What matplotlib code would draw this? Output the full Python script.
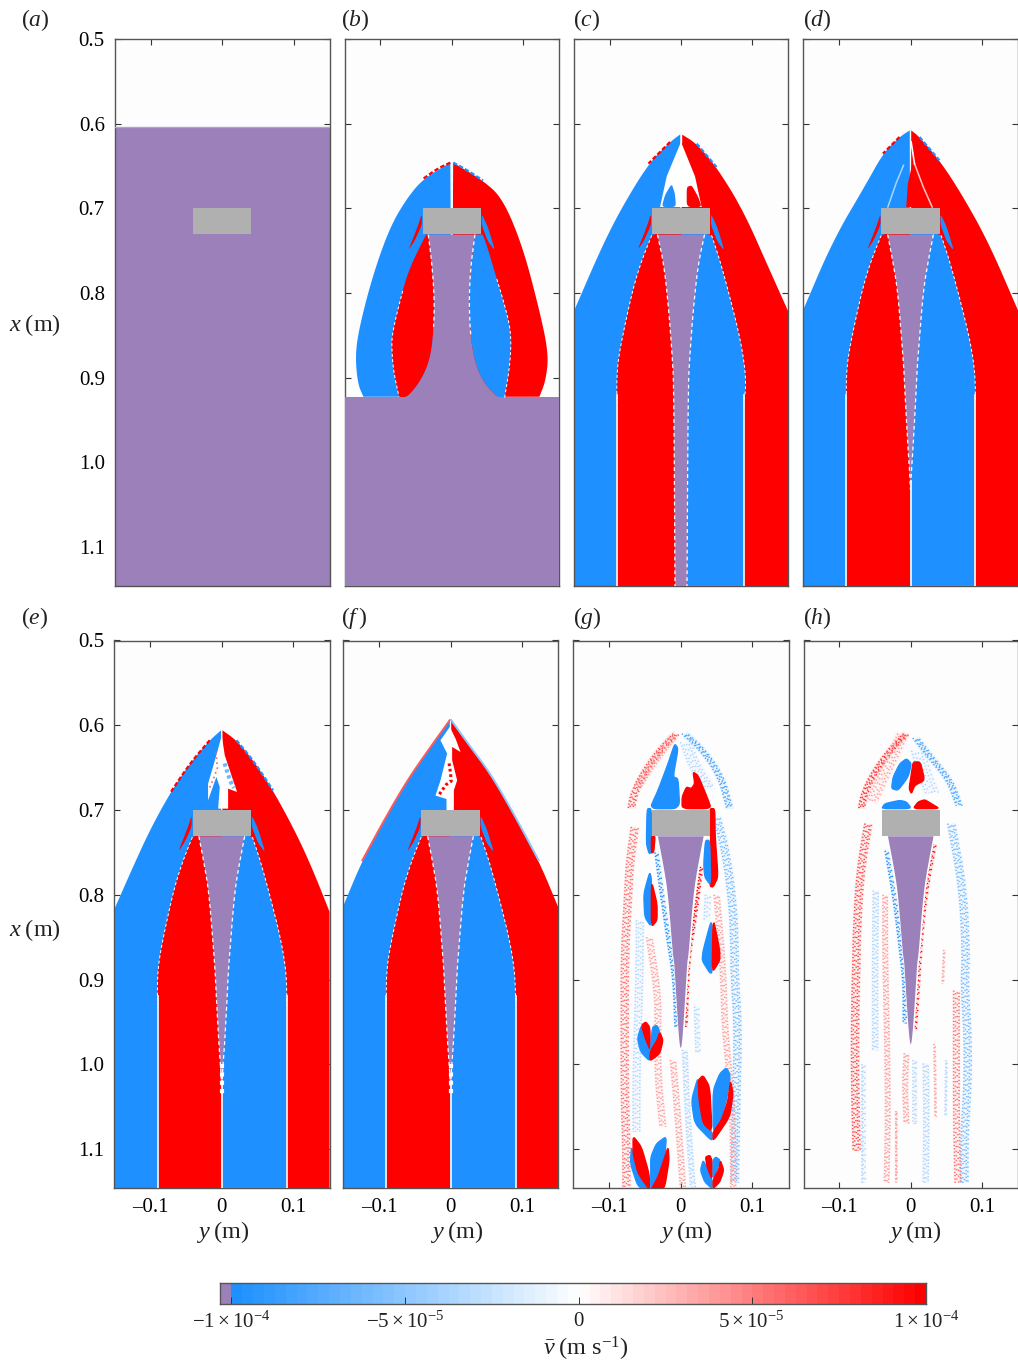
import numpy as np
import matplotlib
matplotlib.use("Agg")
import matplotlib.pyplot as plt
from matplotlib.colors import LinearSegmentedColormap

plt.rcParams.update({"font.family": ["Liberation Serif", "DejaVu Serif"], "mathtext.fontset": "custom",
                     "mathtext.rm": "Liberation Serif", "mathtext.it": "Liberation Serif:italic",
                     "mathtext.bf": "Liberation Serif:bold", "font.size": 15})

BLUE, RED, PURPLE, GREY = "#1e90ff", "#ff0000", "#9c80ba", "#b0b0b0"
PALE_R, PALE_B = "#ff9a9a", "#a9d3ff"

# ---------- axis scale ----------
Y_LIM = 0.1505
X_TOP, X_BOT = 0.5, 1.146
y_ticks = [-0.1, 0, 0.1]
y_tick_labels = ["–0.1", "0", "0.1"]
x_ticks = [0.5, 0.6, 0.7, 0.8, 0.9, 1.0, 1.1]
obstacle_y = [-0.0408, 0.0408]
obstacle_x = [0.6995, 0.7305]

# ---------- panel a ----------
a_front = 0.604

# ---------- panel b ----------
b_left_x = [.646, .665, .6886, .722, .777, .836, .8717, .907, .9225]
b_left_y = [-.002, -.040, -.0633, -.0866, -.110, -.1285, -.1355, -.132, -.124]
b_right_x = [.646, .667, .6886, .7453, .8197, .8717, .9031, .9225]
b_right_y = [.002, .0438, .0717, .0996, .1229, .136, .132, .123]
b_front = 0.9225
b_inner_l_y = [-.036, -.0610, -.0749, -.0834, -.0843, -.0820, -.0740]
b_inner_l_x = [.731, .7732, .8165, .8480, .8638, .8913, .9225]
b_core_l_y = [-.033, -.0283, -.0247, -.0247, -.0284, -.0400, -.0610, -.0740]
b_core_l_x = [.731, .7614, .8008, .8323, .8717, .8992, .9228, .9245]
b_inner_r_y = [.0325, .0260, .0242, .0275, .0391, .0624, .0740]
b_inner_r_x = [.731, .7732, .8165, .8638, .8992, .9228, .9245]
b_outer_r_y = [.0433, .0485, .0624, .0764, .0834, .0820, .0740]
b_outer_r_x = [.731, .7417, .7811, .8205, .8480, .8835, .9245]

# ---------- shared wings ----------
wing_l_y = [-.0420, -.048, -.061, -.0517, -.0420]
wing_l_x = [.7063, .7220, .7496, .7378, .7197]
wing_r_y = [.0420, .0507, .0610, .0507, .0420]
wing_r_x = [.7063, .7220, .7504, .7390, .7197]

# ---------- shared wake boundaries c-f ----------
wake_l_y = [-.041, -.055, -.0666, -.0782, -.0875, -.0900]
wake_l_x = [.7319, .7614, .7929, .8362, .8756, .9012]
wake_r_y = [.0428, .0545, .0684, .0824, .0894, .0908]
wake_r_x = [.7319, .7614, .8047, .852, .8874, .911]

# outer envelopes
c_l_y = [-.001, -.0154, -.0456, -.0852, -.1131, -.1494, -.1505]
c_l_x = [.6126, .6216, .6472, .7024, .7496, .8205, .8225]
c_r_y = [.001, .0219, .0498, .0871, .1243, .1505]
c_r_x = [.6126, .6236, .6512, .7024, .7732, .8224]
d_l_y = [-.001, -.0154, -.0386, -.0619, -.1085, -.1505]
d_l_x = [.6079, .6157, .6354, .6709, .7378, .8205]
d_r_y = [.001, .0126, .0405, .0684, .108, .1505]
d_r_x = [.6079, .6157, .6433, .6787, .7378, .8205]
e_l_y = [-.001, -.0168, -.0447, -.0726, -.1006, -.1262, -.1505]
e_l_x = [.606, .6177, .6453, .6807, .724, .7713, .818]
e_r_y = [.001, .0205, .0438, .0717, .1043, .1276, .1505]
e_r_x = [.606, .6177, .6413, .6768, .728, .7713, .82]
f_l_y = [-.001, -.028, -.0605, -.0931, -.1234, -.1505]
f_l_x = [.594, .6256, .665, .7122, .7594, .814]
f_r_y = [.001, .028, .0559, .0885, .1234, .1505]
f_r_x = [.594, .6256, .657, .7043, .7594, .814]

# wake cores (half widths)
c_core_w = [.0330, .0240, .0175, .0125, .0100, .0084]
c_core_x = [.7310, .7660, .8165, .8717, .9100, 1.146]
taper_w = [.0320, .0240, .0177, .0107, .0093, .0070, .0037, .0014, 0]
d_core_x = [.7310, .7660, .7988, .8736, .8900, .9300, .9800, 1.010, 1.032]
e_core_x = [.7310, .7660, .7988, .8736, .8900, .9300, .9800, 1.005, 1.030]
f_core_x = [.7310, .7660, .7988, .8736, .8900, .9300, .9800, 1.005, 1.030]
g_core_x = [.7310, .7660, .7988, .8736, .8772, .9090, .9550, .9780, .9810]
h_core_x = [.7310, .7660, .7988, .8736, .8772, .9090, .9520, .9730, .9770]

# ---------- c cavity ----------
c_void_y = [0, -.0200, -.0293, .0289, .0196]
c_void_x = [.6215, .6622, .6984, .6984, .6622]
c_vb_y = [-.0270, -.0223, -.0130, -.0084, -.0070]
c_vb_x = [.6984, .6840, .6710, .6830, .6984]
c_vr_y = [.0080, .0080, .0150, .0242, .0289]
c_vr_x = [.6984, .6748, .6728, .6866, .6984]

# ---------- d cavity ----------
d_red_y = [.002, -.0037, -.0060, .0303]
d_red_x = [.6490, .6709, .6984, .6984]
d_streak_l_y = [-.0098, -.0200, -.0317]
d_streak_l_x = [.6492, .6700, .6984]
d_streak_r_y = [.0056, .0180, .0303]
d_streak_r_x = [.6472, .6750, .6984]
d_top_y = [.0009, .0056]
d_top_x = [.6216, .6472]

# ---------- e cavity ----------
e_void_y = [0, .0042, .0135, .0214, .0089, .0089, -.0050, -.0028, -.0075, -.0191, -.0191, -.0075]
e_void_x = [.6120, .6354, .6590, .6787, .6748, .6984, .6984, .6728, .6610, .6886, .6689, .6354]
e_fleck_y = [.004, .008, .012, .017]
e_fleck_x = [.6450, .6560, .6660, .6740]
e_red_y = [-.008, -.006, -.012, -.018]
e_red_x = [.6320, .6500, .6640, .6760]

# ---------- f cavity ----------
f_void_y = [-.001, .0070, .0140, .0023, .0023, .0093, .0047, .0047, -.0056, -.0056, -.0210, -.0140, -.0047, -.0140]
f_void_x = [.6020, .6157, .6315, .6256, .6413, .6650, .6768, .7000, .7000, .6870, .6830, .6650, .6335, .6177]
f_fleck_y = [-.002, .000, .001, -.006, -.012, -.016]
f_fleck_x = [.6450, .6560, .6660, .6700, .6770, .6820]

# ---------- panel g blobs ----------
g_blue_y = [-.0084, -.0037, -.0107, -.0037, -.0014, -.0433, -.0317, -.0177]
g_blue_x = [.6217, .6276, .661, .663, .6984, .6984, .6768, .6453]
g_red_y = [.0172, .0242, .0358, .0428, .0019, .0019, .0079, .0149, .0196]
g_red_x = [.6551, .6591, .6827, .6984, .6984, .6846, .6728, .6748, .6689]
g_s1_y = [-.047, -.041, -.04, -.0442, -.048]
g_s1_x = [.6984, .6984, .7496, .7516, .7398]
g_s2_y = [-.041, -.0358, -.0377, -.041]
g_s2_x = [.7311, .7311, .7496, .7508]
g_s3_y = [.0405, .0475, .048, .0521, .0452, .0405, .0419]
g_s3_x = [.6984, .6984, .7299, .7791, .791, .7898, .73]
g_s4_y = [.0345, .0405, .0419, .0335, .0321]
g_s4_x = [.7358, .7358, .789, .7791, .7634]
g_s5_y = [-.0433, -.0517, -.0503, -.041, -.041]
g_s5_x = [.7732, .7988, .8264, .8382, .7811]
g_s6_y = [-.041, -.041, -.0331, -.0331]
g_s6_x = [.7831, .8382, .8303, .8106]
g_s7_y = [.0438, .0312, .0298, .0405, .0438]
g_s7_x = [.8264, .8657, .8776, .8922, .8922]
g_s8_y = [.0452, .0545, .0545, .0438]
g_s8_x = [.8264, .8657, .8776, .8922]
# drop A
dA_ob_y = [-.0549, -.0605, -.0559, -.0433, -.0433, -.0503]
dA_ob_x = [.954, .9697, .9854, .9964, .9835, .9697]
dA_ir_y = [-.0549, -.0489, -.0433, -.0424, -.0503]
dA_ir_x = [.954, .950, .956, .9843, .9677]
dA_ib_y = [-.0396, -.0331, -.0293, -.0386, -.0424]
dA_ib_x = [.956, .954, .9618, .9835, .9843]
dA_or_y = [-.0293, -.0247, -.0293, -.0433, -.0424, -.0331]
dA_or_x = [.9618, .9717, .9874, .9964, .9843, .9717]
# drop B
dB_ob_y = [.0242, .0149, .0196, .0438, .0438, .0312, .0242]
dB_ob_x = [1.015, 1.0425, 1.0700, 1.0909, 1.0799, 1.0700, 1.0346]
dB_ir_y = [.0242, .0312, .0405, .0438, .0312, .0256]
dB_ir_x = [1.0189, 1.013, 1.0267, 1.0799, 1.0700, 1.0425]
dB_ib_y = [.0452, .0545, .0638, .0694, .0638, .0545, .0452]
dB_ib_x = [1.0307, 1.011, 1.0039, 1.013, 1.0425, 1.0700, 1.0799]
dB_or_y = [.0694, .0731, .0684, .0452, .0452, .0568, .0661]
dB_or_x = [1.0189, 1.0346, 1.0622, 1.0909, 1.0799, 1.0661, 1.0425]
# drop C
dC_ob_y = [-.0689, -.0703, -.0596, -.0433, -.0433, -.0596, -.0666]
dC_ob_x = [1.0976, 1.1173, 1.1448, 1.1487, 1.1487, 1.129, 1.1055]
dC_ir_y = [-.0666, -.0549, -.0442, -.0433, -.0596, -.0666]
dC_ir_x = [1.0846, 1.0976, 1.129, 1.1487, 1.129, 1.1055]
dC_ib_y = [-.0419, -.0419, -.034, -.020, -.0223, -.0317, -.0419]
dC_ib_x = [1.129, 1.1094, 1.0936, 1.085, 1.1094, 1.133, 1.1487]
dC_or_y = [-.0177, -.0163, -.0223, -.0293, -.0419, -.0317, -.0223]
dC_or_x = [1.0976, 1.1133, 1.1448, 1.1487, 1.1487, 1.133, 1.1094]
# drop D
dD_ob_y = [.0312, .0275, .0335, .0438, .0438, .0358]
dD_ob_x = [1.1133, 1.1251, 1.1389, 1.1468, 1.1362, 1.1212]
dD_ir_y = [.0345, .0405, .0438, .0438, .0368]
dD_ir_x = [1.1094, 1.1074, 1.1133, 1.1362, 1.1212]
dD_ib_y = [.0452, .0489, .0554, .0452]
dD_ib_x = [1.1133, 1.1094, 1.1133, 1.1362]
dD_or_y = [.0554, .0601, .0545, .0452, .0452, .0535]
dD_or_x = [1.1133, 1.1251, 1.1389, 1.1468, 1.1362, 1.1232]

# ---------- panel h blobs ----------
h_b1_y = [-.006, .0009, -.0037, -.0177, -.027, -.0247, -.0154]
h_b1_x = [.6394, .6453, .661, .6768, .6748, .661, .6453]
h_r1_y = [.0033, .0135, .0196, .0056, .0009, -.0023, .0009]
h_r1_x = [.6433, .6433, .665, .6709, .6807, .6748, .6571]
h_b2_y = [-.041, -.0363, -.0154, -.006, .0009]
h_b2_x = [.6984, .6925, .6886, .6905, .6984]
h_r2_y = [.0033, .0102, .0196, .0289, .0405]
h_r2_x = [.6984, .6905, .6878, .6925, .6984]

# ---------- speckle bands: (y, x, colour, width, strands) ----------
g_bands = [
    ([-.006, -.0293, -.0549, -.0666, -.0689], [.61, .6295, .661, .6846, .6984], "#ff4a4a", .011, 4),
    ([.0056, .0312, .0568, .0684], [.61, .6295, .661, .6984], "#4aa6ff", .010, 4),
    ([-.011, -.039, -.06], [.614, .645, .673], PALE_R, .012, 3),
    ([.007, .02, .04], [.62, .65, .675], PALE_B, .018, 4),
    ([-.0642, -.0712, -.0736, -.0782, -.0782, -.0782, -.0759, -.0759],
     [.72, .763, .803, .87, .957, 1.035, 1.098, 1.145], "#ff6a6a", .012, 4),
    ([.05, .0638, .0731, .0754, .0754, .08, .0778, .0754],
     [.708, .752, .8146, .87, .897, .9559, 1.035, 1.14], "#72baff", .012, 4),
    ([-.0573, -.0573, -.0596, -.0619, -.0619], [.83, .877, .948, 1.015, 1.08], PALE_B, .012, 3),
    ([-.044, -.032, -.032, -.032, -.025], [.85, .917, .956, 1.015, 1.074], PALE_R, .010, 3),
    ([-.011, -.006, -.0014, .003], [.995, 1.042, 1.094, 1.145], PALE_R, .009, 3),
    ([.0056, .008, .0126, .017], [.983, 1.034, 1.098, 1.145], PALE_B, .008, 3),
    ([.022, .024], [.932, .987], PALE_B, .008, 2),
    ([.05, .059, .0615, .0684, .0731, .0731], [.80, .885, .956, 1.015, 1.074, 1.145], PALE_R, .009, 3),
    ([-.034, -.025, -.0154, -.0084, -.006], [.75, .807, .862, .90, .956], BLUE, .006, 2),
    ([.029, .0196, .0102, .007], [.767, .83, .877, .956], RED, .005, 2),
    ([.038, .036], [.80, .83], PALE_B, .010, 2),
]
h_bands = [
    ([-.006, -.0293, -.0549, -.0666, -.0689], [.61, .6295, .661, .6846, .6984], "#ff3030", .010, 4),
    ([-.011, -.03, -.055], [.61, .645, .69], PALE_R, .018, 4),
    ([.007, .03, .055, .068], [.615, .64, .665, .695], "#4aa6ff", .010, 4),
    ([.01, .02, .03], [.63, .66, .68], PALE_B, .022, 4),
    ([-.0596, -.0712, -.0759, -.0759, -.0782, -.0782, -.0759],
     [.716, .775, .85, .865, .944, 1.023, 1.102], "#ff4a4a", .012, 4),
    ([.0568, .0731, .0777, .0754, .08, .08, .0754, .0754],
     [.716, .791, .87, .905, .964, 1.023, 1.082, 1.14], "#72baff", .012, 4),
    ([-.034, -.022, -.013, -.0084, -.0084], [.748, .807, .87, .905, .952], BLUE, .006, 2),
    ([.0335, .0196, .0126, .0102, .0056], [.74, .803, .87, .905, .96], RED, .006, 2),
    ([-.049, -.05, -.05, -.05], [.795, .87, .905, .984], PALE_B, .009, 3),
    ([-.0666, -.0666], [1.0, 1.14], PALE_B, .006, 2),
    ([-.036, -.036, -.035, -.033, -.032, -.034], [.80, .865, .905, .984, 1.062, 1.14], PALE_R, .008, 3),
    ([-.006, -.0084, -.006], [.987, 1.023, 1.07], PALE_R, .008, 3),
    ([-.02, -.02], [1.055, 1.14], PALE_R, .004, 2),
    ([.0056, .0056], [.995, 1.07], PALE_B, .006, 2),
    ([.021, .022, .021], [.999, 1.062, 1.14], PALE_B, .009, 3),
    ([.0335, .035], [.976, 1.062], PALE_R, .003, 1),
    ([.047, .045], [.865, .905], PALE_R, .003, 1),
    ([.064, .064, .064, .066], [.913, .984, 1.062, 1.14], "#ff7070", .010, 3),
    ([.05, .049], [.995, 1.062], PALE_B, .003, 1),
]

# ---------- colourbar ----------
cb_vmin, cb_vmax = -1e-4, 1e-4
cb_under = -1.033e-4
cb_levels = 64
cb_ticks = [-1e-4, -5e-5, 0, 5e-5, 1e-4]
cb_labels = [r"$-1\times10^{-4}$", r"$-5\times10^{-5}$", "0", r"$5\times10^{-5}$", r"$1\times10^{-4}$"]

W, H = 1018, 1363
fig = plt.figure(figsize=(W / 100, H / 100), dpi=100, facecolor="white")


def round_open(ys, xs, n=3):
    p = np.column_stack([ys, xs]).astype(float)
    for _ in range(n):
        a, b = p[:-1], p[1:]
        q = np.empty((2 * len(a), 2))
        q[0::2] = 0.75 * a + 0.25 * b
        q[1::2] = 0.25 * a + 0.75 * b
        p = np.vstack([p[:1], q, p[-1:]])
    return list(p[:, 0]), list(p[:, 1])


def round_closed(ys, xs, n=3):
    p = np.column_stack([ys, xs]).astype(float)
    for _ in range(n):
        b = np.roll(p, -1, axis=0)
        q = np.empty((2 * len(p), 2))
        q[0::2] = 0.85 * p + 0.15 * b
        q[1::2] = 0.15 * p + 0.85 * b
        p = q
    return p[:, 0], p[:, 1]


def make_ax(l, r, t, b):
    ax = fig.add_axes([l / W, 1 - b / H, (r - l) / W, (b - t) / H])
    ax.set_facecolor("#fdfdfd")
    ax.set_xlim(-Y_LIM, Y_LIM)
    ax.set_ylim(X_BOT, X_TOP)
    ax.set_xticks(y_ticks)
    ax.set_yticks(x_ticks)
    ax.tick_params(direction="in", length=4, width=0.8, color="#333333", top=True, right=True,
                   labelbottom=False, labelleft=False, labelsize=15, pad=7)
    for s in ax.spines.values():
        s.set_linewidth(1.0)
        s.set_color("#555555")
    return ax


def poly(ax, ys, xs, c, z=2, lw=0):
    ax.fill(ys, xs, facecolor=c, edgecolor=c, lw=lw, zorder=z)


def obstacle(ax):
    poly(ax, [obstacle_y[0], obstacle_y[1], obstacle_y[1], obstacle_y[0]],
         [obstacle_x[0], obstacle_x[0], obstacle_x[1], obstacle_x[1]], GREY, 8)


def wings(ax):
    poly(ax, *round_closed(wing_l_y, wing_l_x, 2), RED, 5)
    poly(ax, *round_closed(wing_r_y, wing_r_x, 2), BLUE, 5)


def edge(ax, ys, xs, lw=0.9):
    ax.plot(ys, xs, color="white", lw=lw, ls=(0, (3, 2.5)), zorder=6, dash_capstyle="butt")


def wake_panel(ax, ly, lx, ry, rx, outer_r_bottom, core_w, core_x, tip_line):
    sly, slx = round_open(ly, lx)
    sry, srx = round_open(ry, rx)
    poly(ax, sly + [-Y_LIM, 0], slx + [X_BOT, X_BOT], BLUE)
    poly(ax, sry + [Y_LIM, 0], srx + [X_BOT, X_BOT], RED)
    wly, wlx = round_open(wake_l_y + [-.0897], wake_l_x + [.93])
    wry, wrx = round_open(wake_r_y + [outer_r_bottom], wake_r_x + [.93])
    poly(ax, wly + [-.0897, 0, 0], wlx + [X_BOT, X_BOT, .72], RED, 3)
    poly(ax, wry + [outer_r_bottom, 0, 0], wrx + [X_BOT, X_BOT, .72], BLUE, 3)
    cy, cx = round_open(core_w, core_x)
    cy = np.array(cy)
    poly(ax, list(-cy) + list(cy[::-1]), cx + cx[::-1], PURPLE, 4)
    edge(ax, list(-cy), cx)
    edge(ax, list(cy), cx)
    edge(ax, wly, wlx, 0.7)
    edge(ax, wry, wrx, 0.7)
    ax.plot([-.0897, -.0897], [.92, X_BOT], color="#eeeeee", lw=1.3, zorder=6)
    ax.plot([outer_r_bottom, outer_r_bottom], [.92, X_BOT], color="#eeeeee", lw=1.3, zorder=6)
    if tip_line:
        ax.plot([0, 0], [core_x[-1] - .01, X_BOT], color="#f2f2f2", lw=1.3, zorder=6)
    wings(ax)
    obstacle(ax)


def fringe(ax, ly, lx, ry, rx, cl=RED, cr=BLUE, lw=1.6, ls=(0, (2, 1))):
    a, b = round_open(ly, lx)
    ax.plot(a, b, color=cl, lw=lw, ls=ls, zorder=5)
    a, b = round_open(ry, rx)
    ax.plot(a, b, color=cr, lw=lw, ls=ls, zorder=5)


def band(ax, ys, xs, color, width, strands):
    sy, sx = round_open(ys, xs, 2)
    sy, sx = np.array(sy), np.array(sx)
    wash_lw = (width * 716 + 1) * 0.72
    ax.plot(sy, sx, color=color, lw=wash_lw, alpha=0.09, zorder=2, solid_capstyle="butt")
    n = strands + 1
    for k in range(n):
        off = (k + 0.5) / n - 0.5
        ax.plot(sy + off * width, sx, color=color, lw=1.15,
                ls=((k * 1.3) % 3.1, (0.8, 1.3 + 0.8 * (k % 3))),
                dash_capstyle="butt", zorder=3)


def blobs(ax, items):
    for ys, xs, c in items:
        poly(ax, *round_closed(ys, xs), c, 5, lw=1.0)


# ---------- panels ----------
RT, RB = 39, 586
ax_a = make_ax(114.5, 330, RT, RB)
ax_b = make_ax(344.5, 559, RT, RB)
ax_c = make_ax(573.5, 788.5, RT, RB)
ax_d = make_ax(803, 1018, RT, RB)
RT2, RB2 = 640.5, 1188
ax_e = make_ax(114, 329.5, RT2, RB2)
ax_f = make_ax(343, 558, RT2, RB2)
ax_g = make_ax(573, 788.5, RT2, RB2)
ax_h = make_ax(803.5, 1018, RT2, RB2)

# a
ax_a.axhspan(a_front, X_BOT, color=PURPLE, lw=0, zorder=2)
ax_a.axhline(a_front, color="#b49fd0", lw=1, zorder=3)
obstacle(ax_a)

# b
ya, xa = round_open(b_left_y, b_left_x)
poly(ax_b, ya + [0], xa + [b_front], BLUE)
ya, xa = round_open(b_right_y, b_right_x)
poly(ax_b, ya + [0], xa + [b_front], RED)
il = round_open(b_inner_l_y, b_inner_l_x)
cl = round_open(b_core_l_y, b_core_l_x)
ir = round_open(b_inner_r_y, b_inner_r_x)
orr = round_open(b_outer_r_y, b_outer_r_x)
poly(ax_b, il[0] + cl[0][::-1], il[1] + cl[1][::-1], RED, 3)
poly(ax_b, ir[0] + orr[0][::-1], ir[1] + orr[1][::-1], BLUE, 3)
poly(ax_b, cl[0] + ir[0][::-1], cl[1] + ir[1][::-1], PURPLE, 4)
ax_b.axhspan(b_front, X_BOT, color=PURPLE, lw=0, zorder=4)
edge(ax_b, cl[0][:30], cl[1][:30])
edge(ax_b, ir[0][:26], ir[1][:26])
edge(ax_b, il[0][16:], il[1][16:], 0.7)
edge(ax_b, orr[0][20:], orr[1][20:], 0.7)
ax_b.plot([0, 0], [.648, .699], color="#f4f4f4", lw=1.2, zorder=5, ls=(0, (4, 1)))
fringe(ax_b, [-.002, -.02, -.040], [.646, .653, .665], [.002, .02, .0438], [.646, .654, .667])
wings(ax_b)
obstacle(ax_b)

# c
wake_panel(ax_c, c_l_y, c_l_x, c_r_y, c_r_x, .088, c_core_w, c_core_x, False)
poly(ax_c, c_void_y, c_void_x, "white", 5)
poly(ax_c, *round_closed(c_vb_y, c_vb_x, 2), BLUE, 6)
poly(ax_c, *round_closed(c_vr_y, c_vr_x, 2), RED, 6)
ax_c.plot([0, 0], [.6126, .6215], color="white", lw=1, zorder=6)
fringe(ax_c, [-.0154, -.0456], [.6216, .6472], [.0219, .0498], [.6236, .6512])

# d
wake_panel(ax_d, d_l_y, d_l_x, d_r_y, d_r_x, .0908, taper_w, d_core_x, True)
poly(ax_d, d_red_y, d_red_x, RED, 5)
ax_d.plot(d_streak_l_y, d_streak_l_x, color="#a8d4ff", lw=1.1, zorder=6)
ax_d.plot(d_streak_r_y, d_streak_r_x, color="#ffc4c4", lw=1.1, zorder=6)
ax_d.plot(d_top_y, d_top_x, color="white", lw=1.2, zorder=6)
fringe(ax_d, [-.0154, -.0386], [.6157, .6354], [.0126, .0405], [.6157, .6433])

# e
wake_panel(ax_e, e_l_y, e_l_x, e_r_y, e_r_x, .0908, taper_w, e_core_x, True)
poly(ax_e, e_void_y, e_void_x, "white", 5)
ax_e.plot(e_fleck_y, e_fleck_x, color="#6fb8ff", lw=3, ls=(0, (0.8, 0.7)), zorder=6)
ax_e.plot(e_red_y, e_red_x, color="#ff6060", lw=1.2, ls=(0, (1, 2)), zorder=6)
fringe(ax_e, [-.0168, -.0447, -.0726], [.6177, .6453, .6807], [.0205, .0438, .0717], [.6177, .6413, .6768])
ax_e.plot([0.0, 0.0], [1.0, 1.035], color="white", lw=3, ls=(0, (1, 1)), zorder=6)

# f
wake_panel(ax_f, f_l_y, f_l_x, f_r_y, f_r_x, .0915, taper_w, f_core_x, True)
poly(ax_f, f_void_y, f_void_x, "white", 5)
ax_f.plot(f_fleck_y, f_fleck_x, color=RED, lw=2.2, ls=(0, (0.9, 0.9)), zorder=6)
fringe(ax_f, f_l_y[:5], f_l_x[:5], f_r_y[:5], f_r_x[:5], "#ff5a5a", "#8cc6ff", 1.4, "-")
ax_f.plot([0.0, 0.0], [1.0, 1.035], color="white", lw=3, ls=(0, (1, 1)), zorder=6)

# g
for y_, x_, c_, w_, n_ in g_bands:
    band(ax_g, y_, x_, c_, w_, n_)
for ax_, cx_ in ((ax_g, g_core_x), (ax_h, h_core_x)):
    sw, sx = round_open(taper_w, cx_)
    sw = np.array(sw)
    ax_.fill_betweenx(sx, -sw - .0015, sw + .0015, color="white", lw=0, zorder=4)
    poly(ax_, list(-sw) + list(sw[::-1]), sx + sx[::-1], PURPLE, 4)
blobs(ax_g, [(g_blue_y, g_blue_x, BLUE), (g_red_y, g_red_x, RED), (g_s1_y, g_s1_x, BLUE), (g_s2_y, g_s2_x, RED),
             (g_s3_y, g_s3_x, RED), (g_s4_y, g_s4_x, BLUE), (g_s5_y, g_s5_x, BLUE), (g_s6_y, g_s6_x, RED),
             (g_s7_y, g_s7_x, BLUE), (g_s8_y, g_s8_x, RED),
             (dA_ob_y, dA_ob_x, BLUE), (dA_ir_y, dA_ir_x, RED), (dA_ib_y, dA_ib_x, BLUE), (dA_or_y, dA_or_x, RED),
             (dB_ob_y, dB_ob_x, BLUE), (dB_ir_y, dB_ir_x, RED), (dB_ib_y, dB_ib_x, BLUE), (dB_or_y, dB_or_x, RED),
             (dC_ob_y, dC_ob_x, BLUE), (dC_ir_y, dC_ir_x, RED), (dC_ib_y, dC_ib_x, BLUE), (dC_or_y, dC_or_x, RED),
             (dD_ob_y, dD_ob_x, BLUE), (dD_ir_y, dD_ir_x, RED), (dD_ib_y, dD_ib_x, BLUE), (dD_or_y, dD_or_x, RED)])
obstacle(ax_g)

# h
for y_, x_, c_, w_, n_ in h_bands:
    band(ax_h, y_, x_, c_, w_, n_)
blobs(ax_h, [(h_b1_y, h_b1_x, BLUE), (h_r1_y, h_r1_x, RED), (h_b2_y, h_b2_x, BLUE), (h_r2_y, h_r2_x, RED)])
obstacle(ax_h)

# tick labels
for ax in (ax_a, ax_e):
    ax.tick_params(labelleft=True)
    ax.set_yticklabels([f"{v:.1f}" for v in x_ticks])
for ax in (ax_e, ax_f, ax_g, ax_h):
    ax.tick_params(labelbottom=True)
    ax.set_xticklabels(y_tick_labels)


def ftext(px, py, s, ha="center", size=15):
    fig.text(px / W, 1 - py / H, s, ha=ha, va="center", fontsize=size, color="#222222")


panel_letters = ["a", "b", "c", "d", "e", "f", "g", "h"]
letter_px = [21, 341, 573, 803, 21, 341, 573, 803]
letter_py = [20, 20, 20, 20, 618, 618, 618, 618]
for s, px, py in zip(panel_letters, letter_px, letter_py):
    ftext(px, py, rf"$(\mathit{{{s}}}\,)$" if s == "f" else rf"$(\mathit{{{s}}})$", ha="left", size=17)
for py in (325, 930):
    ftext(35, py, r"$\mathit{x}\;(\mathrm{m})$", size=17.5)
for px in (222.5, 457, 686, 915):
    ftext(px, 1232, r"$\mathit{y}\;(\mathrm{m})$", size=17.5)

# colourbar
cax = fig.add_axes([220 / W, 1 - 1304 / H, (926 - 220) / W, (1304 - 1283) / H])
edges = np.concatenate([[cb_under], np.linspace(cb_vmin, cb_vmax, cb_levels + 1)])
centres = (edges[:-1] + edges[1:]) / 2
cmap = LinearSegmentedColormap.from_list("bwr2", [BLUE, "white", RED], N=cb_levels)
cmap.set_under(PURPLE)
cax.pcolormesh(edges, [0, 1], centres[None, :], cmap=cmap, vmin=cb_vmin, vmax=cb_vmax, rasterized=True)
cax.set_xlim(cb_under, cb_vmax)
cax.set_ylim(0, 1)
cax.set_yticks([])
cax.set_xticks(cb_ticks)
cax.set_xticklabels([])
cax.tick_params(direction="in", length=5, width=0.7, color="#333333")
for s in cax.spines.values():
    s.set_linewidth(1.0)
    s.set_color("#555555")
for px, s in zip((231, 405, 578, 751, 926), cb_labels):
    ftext(px, 1322, s)
ftext(586, 1349, r"$\bar{\mathit{v}}\;(\mathrm{m\ s}^{-1})$", size=17.5)

fig.savefig("out.png", dpi=100)
